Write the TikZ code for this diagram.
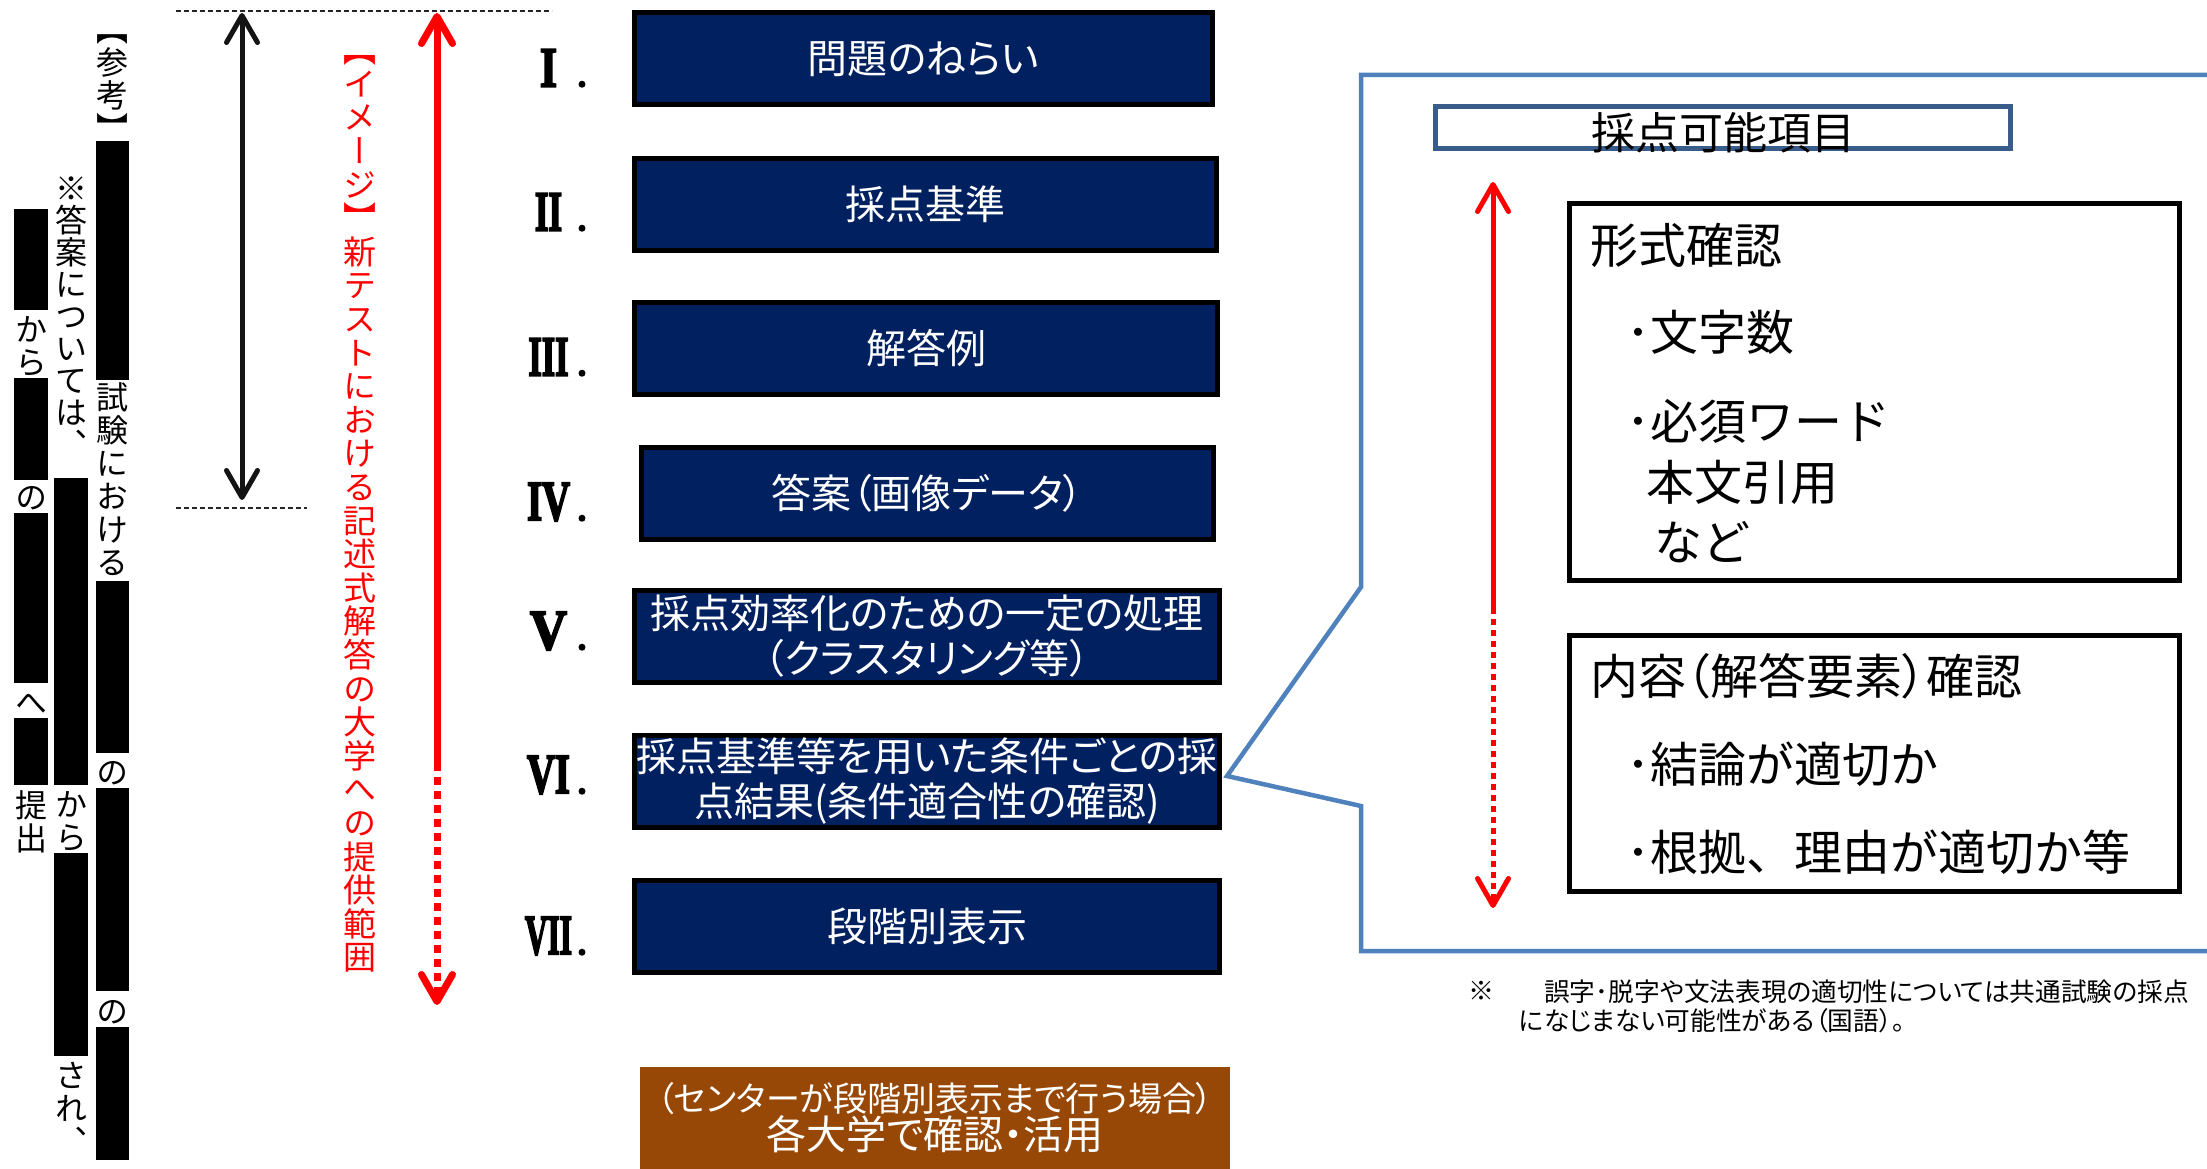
\documentclass[tikz,border=0pt]{standalone}
\usepackage{fontspec}
\usepackage{graphicx}
\usetikzlibrary{arrows.meta}
\newfontfamily\jp{Noto Sans CJK JP}[RawFeature=+palt]
\newfontfamily\jpn{Noto Sans CJK JP}
\newfontfamily\jpv{Noto Sans CJK JP}[RawFeature=+vert]
\newfontfamily\romanfont{Liberation Serif}[BoldFeatures={FakeBold=4}]
\definecolor{navy}{RGB}{0,32,96}
\definecolor{brownbox}{RGB}{152,72,6}
\definecolor{callblue}{RGB}{79,129,189}
\definecolor{titleblue}{RGB}{56,93,138}
\definecolor{pred}{RGB}{255,0,0}
\makeatletter
\newcommand\tatetext[2]{%
  \vbox{\baselineskip=#1\lineskiplimit=-\maxdimen\lineskip=0pt
    \@tfor\tate@c:=#2\do{\hbox to #1{\hss\vrule height .88\dimexpr#1\relax depth .12\dimexpr#1\relax width 0pt \tate@c\hss}}}}
\makeatother
\begin{document}
\begin{tikzpicture}[x=1pt,y=-1pt,
  >={Straight Barb[length=27pt,width=31pt,line cap=round,line join=round]},
  navybox/.style={draw=black,line width=5pt,fill=navy,text=white,inner sep=0pt,align=center,minimum height=92pt,font=\jp\fontsize{40}{45}\selectfont},
  blkbox/.style={draw=black,line width=5pt,inner sep=0pt},
  tate/.style={anchor=north,inner sep=0pt,font=\jpv\fontsize{32}{32}\selectfont},
  guide/.style={black!85,line width=1.6pt,dash pattern=on 5pt off 3pt},
  redline/.style={draw=pred,line width=7pt},
  redline2/.style={draw=pred,line width=5pt},
  reddots/.style={dash pattern=on 8pt off 6pt},
  reddots2/.style={dash pattern=on 6pt off 5pt},
  bodytxt/.style={anchor=west,inner sep=0pt,font=\jpn\fontsize{48}{48}\selectfont},
  notetxt/.style={anchor=west,inner sep=0pt,font=\jp\fontsize{25.7}{26}\selectfont},
  callout/.style={draw=callblue,line width=4.5pt,line join=miter}]
\useasboundingbox (0,0) rectangle (2207,1169);
\clip (0,0) rectangle (2207,1169);

% guide lines
\coordinate (d1a) at (176,11); \coordinate (d1b) at (552,11);
\coordinate (d2a) at (176,508); \coordinate (d2b) at (307,508);
\draw[guide] (d1a) -- (d1b);
\draw[guide] (d2a) -- (d2b);

% black double arrow
\coordinate (ba) at (242,13); \coordinate (bb) at (242,500);
\draw[line width=5pt,black!92,<->] (ba) -- (bb);

% red arrow (left)
\coordinate (ra) at (437,13); \coordinate (rm) at (437,763); \coordinate (rb) at (437,1005);
\draw[redline,<-] (ra) -- (rm);
\draw[redline,reddots,->] (rm) -- (rb);

% red vertical text
\node[anchor=north,inner sep=0pt,text=pred,font=\jpv\fontsize{33}{33}\selectfont] (redtxt) at (360,33)
  {\tatetext{33.6pt}{【イメージ】新テストにおける記述式解答の大学への提供範囲}};

% left columns (column 1)
\node[tate] (c1a) at (112.5,12) {\tatetext{33pt}{【参考】}};
\fill (96,141) rectangle (129,380);
\node[tate] (c1b) at (112.5,380) {\tatetext{33pt}{試験における}};
\fill (96,581) rectangle (129,753);
\node[tate] (c1c) at (112.5,755) {\tatetext{33pt}{の}};
\fill (96,788) rectangle (129,991);
\node[tate] (c1d) at (112.5,994) {\tatetext{33pt}{の}};
\fill (96,1027) rectangle (129,1160);
% column 2
\node[tate] (c2a) at (71,172) {\tatetext{32pt}{※答案については、}};
\fill (54,478) rectangle (88,785);
\node[tate] (c2b) at (71,787) {\tatetext{33pt}{から}};
\fill (54,853) rectangle (88,1056);
\node[tate] (c2c) at (71,1058) {\tatetext{33pt}{され、}};
% column 3
\fill (14,209) rectangle (48,310);
\node[tate] (c3a) at (31,312) {\tatetext{33pt}{から}};
\fill (14,378) rectangle (48,480);
\node[tate] (c3b) at (31,480) {\tatetext{33pt}{の}};
\fill (14,513) rectangle (48,683);
\node[tate] (c3c) at (31,685) {\tatetext{33pt}{へ}};
\fill (14,718) rectangle (48,785);
\node[tate] (c3d) at (31,788) {\tatetext{33pt}{提出}};

% roman numerals
\foreach \t/\w/\yy [count=\i] in {I/17/68, II/27/212, III/40/357, IV/43/502, V/37/631, VI/43/775, VII/47/936} {
  \node[inner sep=0pt] (rn\i) at (548.5,\yy) {\resizebox{\w pt}{37pt}{\romanfont\bfseries \t}};
  \node[inner sep=0pt,anchor=base] (rp\i) at (582,\yy+18.5) {\romanfont\bfseries\fontsize{34}{34}\selectfont .};
}

% navy boxes
\node[navybox,minimum width=578pt] (b1) at (923.5,59) {問題のねらい};
\node[navybox,minimum width=582pt] (b2) at (925.5,204.5) {採点基準};
\node[navybox,minimum width=583pt] (b3) at (926,348.5) {解答例};
\node[navybox,minimum width=572pt] (b4) at (927.5,493.5) {答案（画像データ）};
\node[navybox,minimum width=585pt] (b5) at (927,636.5) {採点効率化のための一定の処理\\（クラスタリング等）};
\node[navybox,minimum width=585pt] (b6) at (927,781.5) {採点基準等を用いた条件ごとの採\\点結果(条件適合性の確認)};
\node[navybox,minimum width=585pt] (b7) at (927,926.5) {段階別表示};

% brown box
\node[fill=brownbox,text=white,inner sep=0pt,minimum width=590pt,minimum height=102pt,align=center] (br) at (935,1118)
  {{\jp\fontsize{34}{40}\selectfont （センターが段階別表示まで行う場合）}\\{\jp\fontsize{40}{46}\selectfont 各大学で確認・活用}};

% callout
\coordinate (tip) at (1227,776);
\draw[callout] (2230,75) -- (1361,75) -- (1361,587) -- (tip) -- (1361,806) -- (1361,951) -- (2230,951);

\node[draw=titleblue,line width=5pt,minimum width=575pt,minimum height=42pt,inner sep=0pt,font=\jp\fontsize{44}{44}\selectfont] (kt) at (1723,127.5) {\raisebox{-5pt}[\height][\depth]{採点可能項目}};

% red arrow (right)
\coordinate (qa) at (1493,182); \coordinate (qm) at (1493,608); \coordinate (qb) at (1493,908);
\draw[redline2,<-] (qa) -- (qm);
\draw[redline2,reddots2,->] (qm) -- (qb);

% boxes on right
\node[blkbox,minimum width=610pt,minimum height=377pt] (fk) at (1874.5,392) {};
\node[blkbox,minimum width=610pt,minimum height=256pt] (nk) at (1874.5,763.5) {};

\node[bodytxt] (t1) at (1590,245) {形式確認};
\node[bodytxt] (t2) at (1626,332) {･文字数};
\node[bodytxt] (t3) at (1626,421) {･必須ワード};
\node[bodytxt] (t4) at (1646,482) {本文引用};
\node[bodytxt] (t5) at (1654,542) {など};
\node[bodytxt,font=\jp\fontsize{48}{48}\selectfont] (t6) at (1590,676) {内容（解答要素）確認};
\node[bodytxt] (t7) at (1626,764) {･結論が適切か};
\node[bodytxt] (t8) at (1626,852) {･根拠、理由が適切か等};

% footnote
\node[inner sep=0pt,font=\jp\fontsize{26}{26}\selectfont] (fn0) at (1481,991) {※};
\node[notetxt] (fn1) at (1544,992) {誤字･脱字や文法表現の適切性については共通試験の採点};
\node[notetxt] (fn2) at (1519,1021) {になじまない可能性がある（国語）。};
\end{tikzpicture}
\end{document}
